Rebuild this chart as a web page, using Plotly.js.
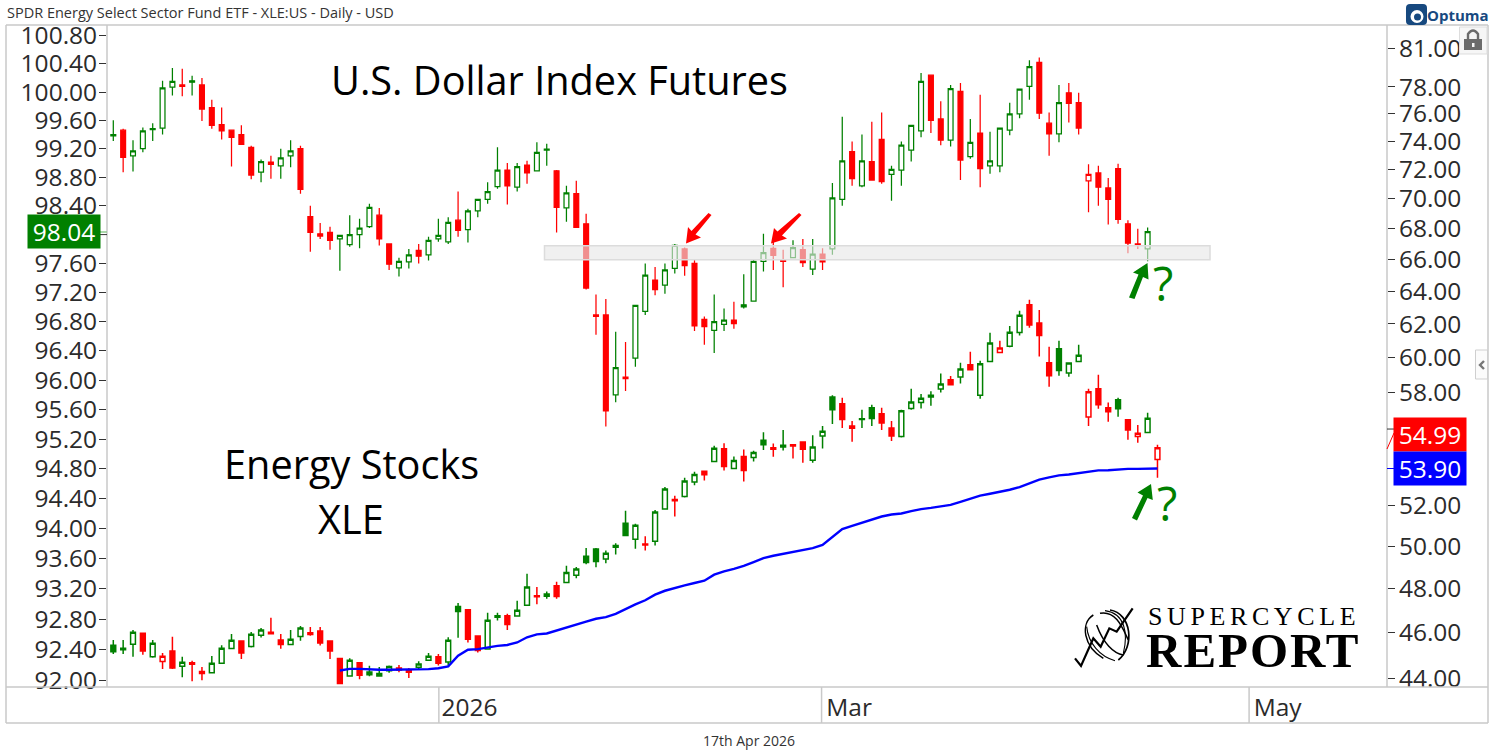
<!DOCTYPE html>
<html><head><meta charset="utf-8">
<script src="https://cdn.plot.ly/plotly-3.0.1.min.js"></script>
<style>html,body{margin:0;padding:0;background:#fff}#c{width:1494px;height:756px}</style>
</head><body><div id="c"></div>
<script>
const dxyOpen=[99.40,99.46,99.10,99.20,99.47,99.49,100.07,100.10,100.16,100.10,99.78,99.54,99.46,99.40,99.22,98.87,99.01,98.96,99.10,99.20,98.25,98.01,98.03,97.94,97.86,98.00,98.11,98.27,97.87,97.54,97.62,97.78,97.72,97.94,97.90,98.20,98.07,98.33,98.49,98.67,98.90,98.66,98.97,98.89,99.18,98.89,98.37,98.57,98.15,96.89,96.89,95.80,96.04,96.30,96.94,97.37,97.30,97.53,97.80,97.60,96.83,96.68,96.76,96.82,97.03,97.08,97.63,97.81,97.65,97.68,97.79,97.52,97.73,97.80,98.49,99.16,98.68,99.02,99.33,98.84,98.90,99.18,99.45,100.24,99.62,99.32,100.01,99.09,99.42,98.96,98.96,99.46,99.69,100.08,100.42,99.56,99.41,99.99,99.85,98.75,98.86,98.65,98.92,98.15,97.87,97.80];
const dxyHigh=[99.60,99.48,99.32,99.50,99.56,100.16,100.34,100.33,100.23,100.20,99.89,99.78,99.47,99.53,99.24,99.05,99.10,99.20,99.32,99.24,98.40,98.16,98.11,97.99,98.27,98.22,98.43,98.37,97.87,97.68,97.80,97.87,97.97,98.22,98.24,98.60,98.36,98.49,98.73,99.22,99.00,99.00,99.03,99.29,99.27,98.90,98.68,98.75,98.29,97.17,97.11,96.66,96.52,97.03,97.60,97.55,97.60,97.87,97.82,97.65,96.87,97.17,96.98,97.07,97.45,97.65,98.01,97.90,97.79,97.92,97.94,97.94,97.81,98.72,99.65,99.30,99.40,99.58,99.71,98.96,99.30,99.53,100.27,100.24,99.87,100.10,100.13,99.62,99.96,99.44,99.49,99.85,100.04,100.45,100.49,99.71,100.10,100.13,99.99,98.98,98.96,98.79,98.99,98.20,98.08,98.10];
const dxyLow=[99.31,98.87,98.88,99.15,99.31,99.40,99.95,99.94,99.95,99.59,99.48,99.33,98.95,99.26,98.77,98.73,98.78,98.78,98.94,98.57,97.76,97.94,97.79,97.50,97.83,97.81,98.09,97.85,97.51,97.42,97.53,97.60,97.64,97.90,97.87,97.97,97.89,98.24,98.43,98.64,98.42,98.60,98.71,98.89,98.96,98.03,98.18,98.10,97.24,96.62,95.37,95.70,95.85,96.18,96.89,97.16,97.18,97.46,97.43,96.67,96.48,96.37,96.67,96.70,96.98,97.07,97.49,97.51,97.27,97.68,97.55,97.44,97.51,97.72,98.40,98.68,98.66,98.76,98.71,98.47,98.68,99.02,99.36,99.42,99.25,99.23,98.76,99.06,98.66,98.85,98.87,99.39,99.63,99.89,99.62,99.10,99.29,99.57,99.40,98.31,98.40,98.14,98.15,97.74,97.80,97.63];
const dxyClose=[99.38,99.08,99.17,99.45,99.484,100.06,100.15,100.08,100.14,99.76,99.53,99.45,99.36,99.26,98.83,99.02,98.98,99.07,99.17,98.63,98.03,97.98,97.92,97.99,98.00,98.09,98.38,97.94,97.59,97.63,97.72,97.70,97.92,97.99,98.17,98.06,98.33,98.49,98.60,98.90,98.68,98.95,98.86,99.15,99.195,98.38,98.58,98.10,97.26,96.87,95.58,96.17,96.02,97.02,97.44,97.24,97.51,97.85,97.57,96.74,96.73,96.80,96.82,96.77,97.00,97.63,97.75,97.71,97.63,97.82,97.61,97.73,97.62,98.51,99.03,98.78,99.03,98.76,98.74,98.91,99.25,99.53,100.15,99.60,99.32,100.05,99.04,99.29,98.92,99.03,99.49,99.69,100.04,100.36,99.70,99.41,99.85,99.84,99.49,98.84,98.66,98.49,98.21,97.88,97.85,98.04];

const xleOpen=[45.42,45.29,45.46,45.95,44.92,44.71,45.17,44.50,44.65,44.19,44.22,44.63,45.27,45.61,45.36,45.86,45.99,45.65,45.45,45.80,45.97,46.05,45.61,44.84,44.09,44.65,44.26,44.09,44.31,44.43,44.34,44.46,44.76,44.91,44.69,47.15,47.01,45.83,45.25,46.73,46.73,46.72,47.21,47.65,47.73,48.11,48.26,48.60,49.51,49.86,49.37,49.94,51.12,50.33,50.10,50.23,51.82,52.31,52.46,53.20,53.76,54.26,54.94,53.90,54.53,54.48,55.40,54.99,55.03,55.16,55.30,54.33,55.63,57.76,57.39,56.04,56.52,57.17,56.83,56.06,55.59,57.13,57.46,57.76,58.21,58.74,58.89,59.60,57.87,59.79,60.31,60.67,61.49,63.16,62.06,59.71,60.53,59.12,59.79,56.65,58.23,57.17,57.61,56.50,55.59,55.81,54.37];
const xleHigh=[45.65,45.65,46.09,45.95,45.65,45.08,45.79,44.91,44.74,44.47,44.95,45.42,45.92,45.61,46.00,46.18,46.64,45.92,46.09,46.27,46.23,46.23,45.61,44.85,44.85,44.69,44.52,44.47,44.54,44.56,44.43,44.72,45.08,45.04,45.77,47.31,47.04,45.83,46.87,46.87,46.82,47.42,48.68,48.06,47.85,48.30,49.05,49.00,49.91,49.91,49.79,50.13,51.74,51.09,50.48,51.77,52.94,52.50,53.42,53.73,53.78,55.10,55.24,54.53,54.90,54.83,55.82,55.22,55.95,55.19,55.33,55.66,56.17,57.87,57.72,56.44,57.06,57.33,57.17,56.44,57.06,58.23,57.94,58.09,59.09,58.95,59.71,60.35,59.83,61.47,61.00,61.88,62.80,63.47,62.85,60.65,61.00,59.70,60.76,58.23,59.03,57.46,57.72,56.50,56.22,56.89,55.15];
const xleLow=[45.04,45.04,44.91,45.00,44.87,44.38,44.38,44.03,43.86,43.90,44.21,44.63,45.27,44.82,45.32,45.76,45.93,45.26,45.45,45.62,45.84,45.41,44.82,43.75,44.06,43.95,44.07,44.07,44.22,44.25,44.00,44.37,44.75,44.54,44.54,45.75,45.54,45.10,45.22,46.52,46.09,46.72,47.21,47.26,47.51,47.51,48.26,48.46,49.12,48.98,49.17,49.59,50.51,49.87,49.78,50.02,51.82,51.45,52.41,53.03,53.28,54.26,53.79,53.86,53.23,54.26,54.87,54.52,54.85,54.42,54.20,54.20,54.95,56.28,56.06,55.31,56.06,56.17,55.95,55.36,55.54,57.06,57.13,57.28,58.02,58.45,58.52,59.31,57.67,59.79,60.31,60.61,61.31,61.78,60.08,58.34,58.97,58.91,59.79,56.17,57.11,56.39,56.67,55.42,55.26,55.81,53.42];
const xleClose=[45.13,45.22,45.99,45.17,45.51,44.94,44.43,44.68,44.59,44.28,44.63,45.29,45.64,45.08,45.90,46.09,45.93,45.45,45.68,46.18,45.89,45.52,45.17,43.77,44.76,44.12,44.14,44.19,44.49,44.34,44.25,44.60,44.94,44.63,45.64,46.93,45.68,45.19,46.53,46.67,46.34,46.99,48.05,47.60,47.63,47.62,48.74,48.90,49.21,49.26,49.65,50.03,50.51,51.02,50.05,51.67,52.84,52.24,53.25,53.59,53.58,54.97,54.00,54.32,53.79,54.74,55.15,54.92,55.13,55.09,54.92,55.03,55.88,57.06,56.52,56.17,56.56,56.58,56.33,55.63,57.00,57.48,57.70,57.87,58.50,58.45,59.35,59.31,59.66,60.86,60.57,61.51,62.53,61.94,61.31,58.97,59.26,59.70,60.15,58.06,57.33,56.94,57.11,55.95,55.77,56.59,54.99];
const xleAverage=[null,null,null,null,null,null,null,null,null,null,null,null,null,null,null,null,null,null,null,null,null,null,null,44.32,44.39,44.39,44.36,44.35,44.35,44.35,44.35,44.35,44.38,44.42,44.50,44.96,45.22,45.25,45.33,45.39,45.43,45.54,45.77,45.90,45.94,46.08,46.20,46.34,46.47,46.60,46.67,46.82,47.05,47.25,47.44,47.70,47.88,48.02,48.13,48.24,48.35,48.63,48.79,48.91,49.05,49.23,49.42,49.53,49.62,49.72,49.80,49.90,50.05,50.43,50.83,50.99,51.14,51.29,51.45,51.55,51.60,51.72,51.82,51.88,51.95,52.03,52.19,52.36,52.50,52.60,52.70,52.80,52.94,53.11,53.32,53.44,53.54,53.59,53.66,53.75,53.80,53.81,53.85,53.88,53.88,53.88,53.90];

const leftTicks=[92.00,92.40,92.80,93.20,93.60,94.00,94.40,94.80,95.20,95.60,96.00,96.40,96.80,97.20,97.60,98.40,98.80,99.20,99.60,100.00,100.40,100.80];
const rightTicks=[44,46,48,50,52,58,60,62,64,66,68,70,72,74,76,78,81];
const dateLabels=['2026','Mar','May'];
const dateLabelPos=[36.15,74.7,118.2];
const dateSeparators=[33.05,71.9,115.3];
const resistance={low:97.65,high:97.845};
const sessionX=xleClose.map((_,i)=>i);

const GREEN='#008000',RED='#ff0000',BLUE='#0000ff',AX='#c9c9c9',TXT='#2b2b2b',FONT='"Open Sans",sans-serif';
const L=107,R=1387,T=25,B=687;
const X=p=>(p-L)/(R-L), Y=p=>(B-p)/(B-T);
const P=(pts,close=true)=>pts.map((q,i)=>(i?'L':'M')+X(q[0]).toFixed(5)+','+Y(q[1]).toFixed(5)).join(' ')+(close?' Z':'');

function candles(o,h,l,c,up,axis,lw,name){
  const idx=o.map((_,i)=>i).filter(i=>{const g=i===0||c[i]>=c[i-1];return up?g:!g;});
  const col=up?GREEN:RED;
  return {type:'candlestick',name,x:idx.map(i=>sessionX[i]),open:idx.map(i=>o[i]),high:idx.map(i=>h[i]),low:idx.map(i=>l[i]),close:idx.map(i=>c[i]),
    yaxis:axis,width:0.62,whiskerwidth:0,hoverinfo:'skip',showlegend:false,
    increasing:{line:{color:col,width:lw},fillcolor:'#ffffff'},
    decreasing:{line:{color:col,width:lw},fillcolor:col}};
}
const traces=[
  candles(dxyOpen,dxyHigh,dxyLow,dxyClose,true,'y',1.25,'DXY up'),
  candles(dxyOpen,dxyHigh,dxyLow,dxyClose,false,'y',1.25,'DXY down'),
  candles(xleOpen,xleHigh,xleLow,xleClose,true,'y2',1.5,'XLE up'),
  candles(xleOpen,xleHigh,xleLow,xleClose,false,'y2',1.5,'XLE down'),
  {type:'scatter',mode:'lines',x:sessionX,y:xleAverage,yaxis:'y2',line:{color:BLUE,width:2.4},hoverinfo:'skip',showlegend:false,connectgaps:false}
];

function line(x0,y0,x1,y1,color,width){return {type:'line',xref:'paper',yref:'paper',x0:X(x0),y0:Y(y0),x1:X(x1),y1:Y(y1),line:{color,width},layer:'above'};}
function poly(pts,fill){return {type:'path',xref:'paper',yref:'paper',path:P(pts),fillcolor:fill,line:{width:0},layer:'above'};}
function stroke(d,width){return {type:'path',xref:'paper',yref:'paper',path:d,line:{color:'#000',width},layer:'above'};}
const Z8=(a,b)=>X(1060+a/3).toFixed(5)+','+Y(590+b/3).toFixed(5);
const curve=(a,b,c,d)=>'M'+Z8(...a)+' C'+Z8(...b)+' '+Z8(...c)+' '+Z8(...d);
const xy=(a,b)=>X(a).toFixed(5)+','+Y(b).toFixed(5);
const shapes=[
  // frame
  line(6,25,1488,25,AX,1.5),line(6,25,6,723,AX,1.5),line(1488,25,1488,723,AX,1.5),line(6,723,1488,723,AX,1.5),
  line(107,25,107,687,AX,1.5),line(1387,25,1387,687,AX,1.5),line(6,687,1488,687,AX,1.5),
  // resistance zone
  {type:'rect',xref:'paper',yref:'y',x0:X(544.5),x1:X(1210),y0:resistance.low,y1:resistance.high,fillcolor:'rgba(231,231,231,0.62)',line:{color:'#dcdcdc',width:1.5},layer:'above'},
  // arrows
  poly([[686,243.5],[688,227],[691.5,231],[708.5,213],[711.5,215],[695.5,234.5],[701,237.5]],RED),
  poly([[771,243.5],[774,228],[777.5,231.5],[799,213],[801.5,215],[782,235.5],[787,238.5]],RED),
  poly([[1147.5,263],[1148.5,279.5],[1143,277],[1134.5,299],[1129,297.5],[1138.5,274.5],[1133,272.5]],GREEN),
  poly([[1151,484],[1152.8,500],[1147.5,498],[1137,520.5],[1132,518],[1143,495.5],[1137.5,492.5]],GREEN),
  // price pointers and label-hidden ticks on the axes
  line(100,232,107,232,'#8fca8f',1.5),line(1387,449,1394,433,RED,1),line(1387,468.5,1394,468.5,BLUE,1),
  {type:'line',xref:'paper',yref:'y',x0:X(100),x1:X(107),y0:98,y1:98,line:{color:'#333',width:1}},
  {type:'line',xref:'paper',yref:'y2',x0:X(1387),x1:X(1394),y0:56,y1:56,line:{color:'#333',width:1}},
  // lock button
  {type:'rect',xref:'paper',yref:'paper',x0:X(1459.5),x1:X(1487),y0:Y(27),y1:Y(54),fillcolor:'#f6f6f6',line:{color:'#dddddd',width:1},layer:'above'},
  {type:'rect',xref:'paper',yref:'paper',x0:X(1464),x1:X(1482),y0:Y(39),y1:Y(50),fillcolor:'#6b6b6b',line:{width:0},layer:'above'},
  {type:'path',xref:'paper',yref:'paper',path:'M'+X(1468)+','+Y(39)+' L'+X(1468)+','+Y(34)+' Q'+X(1473)+','+Y(27)+' '+X(1478)+','+Y(34)+' L'+X(1478)+','+Y(39),line:{color:'#6b6b6b',width:2.4},layer:'above'},
  {type:'rect',xref:'paper',yref:'paper',x0:X(1472),x1:X(1474.5),y0:Y(43),y1:Y(47),fillcolor:'#f6f6f6',line:{width:0},layer:'above'},
  // collapse button
  {type:'rect',xref:'paper',yref:'paper',x0:X(1475.5),x1:X(1487.5),y0:Y(350),y1:Y(379),fillcolor:'#fbfbfb',line:{color:'#cfcfcf',width:1},layer:'above'},
  {type:'path',xref:'paper',yref:'paper',path:P([[1484,361],[1480,365],[1484,369]],false),line:{color:'#777777',width:2.4},layer:'above'},
  // Optuma mark
  {type:'path',xref:'paper',yref:'paper',path:'M'+xy(1410,4)+' L'+xy(1423,4)+' Q'+xy(1427,4)+' '+xy(1427,8)+' L'+xy(1427,21)+' Q'+xy(1427,25)+' '+xy(1423,25)+' L'+xy(1410,25)+' Q'+xy(1406,25)+' '+xy(1406,21)+' L'+xy(1406,8)+' Q'+xy(1406,4)+' '+xy(1410,4)+' Z',fillcolor:'#17497f',line:{width:0},layer:'above'},
  {type:'circle',xref:'paper',yref:'paper',x0:X(1410.5),x1:X(1423.5),y0:Y(10),y1:Y(23),fillcolor:'#ffffff',line:{width:0},layer:'above'},
  {type:'circle',xref:'paper',yref:'paper',x0:X(1414),x1:X(1421),y0:Y(13.5),y1:Y(20.5),fillcolor:'#17497f',line:{width:0},layer:'above'},
  // Supercycle mark
  stroke('M'+[[45,205],[63,228],[100,145],[122,170],[148,115],[170,125],[218,55]].map(q=>Z8(q[0],q[1])).join(' L'),2.2),
  stroke(curve([100,75],[60,100],[70,170],[130,205]),1.5),
  stroke(curve([150,60],[215,70],[225,170],[175,210]),1.7),
  stroke(curve([110,105],[130,160],[160,190],[190,195]),1.5),
  stroke(curve([120,70],[170,60],[190,120],[205,150]),1.5),
  stroke(curve([80,110],[85,160],[120,200],[165,212]),1.1),
  stroke(curve([135,62],[195,70],[205,130],[190,190]),1.1)
];
dateSeparators.forEach(v=>shapes.push({type:'line',xref:'x',yref:'paper',x0:v,x1:v,y0:Y(687),y1:Y(723),line:{color:AX,width:1.5}}));

function note(text,x,y,size,extra){return Object.assign({text,xref:'paper',yref:'paper',x:X(x),y:Y(y),xanchor:'center',yanchor:'middle',showarrow:false,font:{family:FONT,size,color:'#000'}},extra||{});}
const annotations=[
  note('U.S. Dollar Index Futures',559,80,39.7),
  note('Energy Stocks',351,464,39.7),
  note('XLE',351,519,39.7),
  note('?',1163,283,47,{font:{family:FONT,size:47,color:GREEN}}),
  note('?',1167,503,47,{font:{family:FONT,size:47,color:GREEN}}),
  note('SPDR Energy Select Sector Fund ETF - XLE:US - Daily - USD',5,13,14.5,{xanchor:'left',font:{family:FONT,size:14.5,color:'#333'}}),
  note('17th Apr 2026',749,740,14,{font:{family:FONT,size:14,color:'#333'}}),
  note('<b>Optuma</b>',1458,15,15,{font:{family:FONT,size:15,color:'#17497f'}}),
  note('98.04',64,231.5,24.5,{width:70,height:31,bgcolor:GREEN,font:{family:FONT,size:24.5,color:'#fff'}}),
  note('54.99',1430,434.5,24.5,{width:70,height:31,bgcolor:RED,font:{family:FONT,size:24.5,color:'#fff'}}),
  note('53.90',1430,468.5,24.5,{width:70,height:31,bgcolor:BLUE,font:{family:FONT,size:24.5,color:'#fff'}}),
  note('SUPERCYCLE',1254,616,26,{font:{family:'"Liberation Serif",serif',size:26,color:'#000'}}),
  note('<b>REPORT</b>',1253,650,49,{font:{family:'"Liberation Serif",serif',size:49,color:'#000'}})
];

const tickFont={family:FONT,size:24.5,color:TXT};
const layout={
  width:1494,height:756,margin:{l:L,r:1494-R,t:T,b:756-B,pad:0},
  paper_bgcolor:'#fff',plot_bgcolor:'#fff',showlegend:false,boxmode:'overlay',hovermode:false,
  xaxis:{type:'linear',range:[-0.64,129.3],rangeslider:{visible:false},showgrid:false,zeroline:false,showline:false,ticks:'',ticklabelstandoff:3,
    tickmode:'array',tickvals:dateLabelPos,ticktext:dateLabels,tickfont:tickFont,fixedrange:true},
  yaxis:{type:'log',range:[1.963376,2.004127],showgrid:false,zeroline:false,showline:false,side:'left',ticks:'outside',ticklen:7,tickwidth:1,tickcolor:'#333',ticklabelstandoff:-3,
    tickmode:'array',tickvals:leftTicks,ticktext:leftTicks.map(v=>v.toFixed(2)),tickfont:tickFont,fixedrange:true},
  yaxis2:{type:'log',overlaying:'y',side:'right',range:[1.639666,1.918162],showgrid:false,zeroline:false,showline:false,ticks:'outside',ticklen:7,tickwidth:1,tickcolor:'#333',ticklabelstandoff:-1,
    tickmode:'array',tickvals:rightTicks,ticktext:rightTicks.map(v=>v.toFixed(2)),tickfont:tickFont,fixedrange:true},
  shapes,annotations
};
Plotly.newPlot('c',traces,layout,{displayModeBar:false,responsive:false,staticPlot:true}).then(gd=>{
  const spacing={SUPERCYCLE:'4.6px',REPORT:'2px'};
  gd.querySelectorAll('.annotation-text').forEach(t=>{const s=spacing[t.textContent];if(s)t.style.letterSpacing=s;});
});
</script></body></html>
